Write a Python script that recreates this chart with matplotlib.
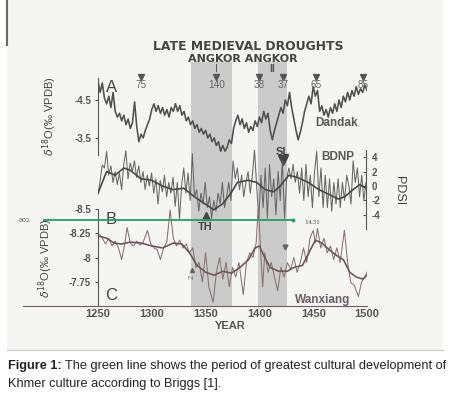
import numpy as np
import matplotlib
matplotlib.use("Agg")
import matplotlib.pyplot as plt
from matplotlib.patches import Rectangle

plt.rcParams['font.family'] = ['Liberation Sans', 'DejaVu Sans']

# ---- data ----
# Dandak cave d18O, every 2 years from 1250
dandak = [-5.0, -4.7, -4.95, -4.55, -4.4, -4.6, -4.3, -4.7, -4.2, -4.05,
          -4.15, -3.95, -4.1, -3.85, -4.0, -3.75, -3.9, -4.45, -3.8, -3.4,
          -3.6, -3.5, -3.7, -3.85, -4.0, -4.25, -4.4, -4.2, -4.35, -4.15,
          -4.3, -4.1, -4.25, -4.05, -4.3, -4.2, -4.4, -4.2, -4.35, -4.1,
          -4.2, -3.95, -4.05, -3.85, -3.95, -3.75, -3.85, -3.65, -3.75, -3.6,
          -3.7, -3.5, -3.6, -3.4, -3.5, -3.3, -3.4, -3.15, -3.3, -3.15,
          -3.25, -3.45, -3.35, -3.75, -3.95, -4.1, -3.85, -4.0, -3.75, -3.9,
          -3.65, -3.8, -3.7, -3.95, -3.8, -4.05, -3.9, -4.2, -4.0, -4.15,
          -3.7, -3.45, -3.7, -3.9, -4.1, -4.3, -4.15, -4.5, -4.35, -4.7,
          -4.3, -4.0, -3.7, -3.45, -3.65, -3.9, -4.2, -4.4, -4.6, -4.4,
          -4.85, -4.6, -4.75, -4.2, -4.35, -4.1, -4.25, -4.05, -4.3, -4.15,
          -4.4, -4.2, -4.5, -4.3, -4.6, -4.45, -4.7, -4.5, -4.75, -4.6,
          -4.85, -4.65, -4.8, -4.7, -4.9, -4.75]
dandak_years = np.arange(1250, 1250 + 2 * len(dandak), 2)

# BDNP PDSI, every 2 years from 1250
bdnp = [-1.2, 0.8, 2.9, 2.5, 4.8, 1.5, 2.8, 0.5, 2.0, 0.2,
        1.8, -0.5, 3.0, 4.9, 1.0, 3.2, 2.0, 3.5, 1.2, 2.8,
        0.5, 2.0, -0.5, 1.5, 0.0, 1.8, -1.0, 1.0, -2.5, 0.8,
        -0.8, 1.5, -1.5, 0.5, -1.0, 1.2, -2.8, 0.5, -4.6, 0.0,
        2.5, -1.0, 1.8, -2.0, 4.5, -1.5, -0.5, -3.5, -1.0, -2.5,
        0.5, -3.0, -1.5, -4.5, -2.0, -3.5, -1.0, -2.5, 0.5, -3.0,
        -1.5, 0.5, -2.0, 3.5, 1.0, 2.5, -0.5, 1.5, -1.5, 0.5,
        2.0, -1.0, 1.5, 5.0, 0.0, -4.5, 1.5, -3.0, 2.5, -4.5,
        3.0, -1.5, 1.0, -4.0, 2.0, -2.0, 3.5, -4.5, 1.0, 2.5,
        1.0, 3.0, 0.5, 2.0, -1.0, 2.5, -2.0, 3.0, -1.5, 1.5,
        -3.0, 2.0, 4.8, -1.5, 2.5, -3.0, 1.5, -3.0, 1.0, -3.5,
        0.5, -2.5, 1.0, -3.0, 0.5, -2.0, 1.5, 0.0, -2.5, 3.5,
        0.5, 2.5, -1.5, 1.5, -2.0, 0.5]
bdnp_years = np.arange(1250, 1250 + 2 * len(bdnp), 2)
bdnp_smooth_years = [1250, 1258, 1266, 1274, 1280, 1290, 1300, 1310, 1320, 1330,
                     1340, 1350, 1358, 1366, 1374, 1380, 1390, 1398, 1406, 1414,
                     1420, 1428, 1436, 1446, 1456, 1466, 1474, 1480, 1488, 1494, 1500]
bdnp_smooth = [-1.0, 2.0, 1.5, 2.5, 2.2, 1.0, 0.8, 0.0, -0.5, -0.3,
               -1.5, -2.5, -3.3, -2.5, -1.0, 0.5, 0.8, 0.5, -0.5, -0.8,
               0.0, 1.5, 1.2, 0.5, -0.5, -1.2, -1.8, -1.5, -0.5, 0.2, -0.3]

# Wanxiang cave d18O
wan_years = [1251, 1254, 1257, 1260, 1263, 1266, 1269, 1272, 1275, 1277,
             1280, 1283, 1286, 1289, 1292, 1296, 1299, 1302, 1305, 1308,
             1311, 1314, 1317, 1320, 1323, 1326, 1329, 1332, 1335, 1338,
             1341, 1344, 1347, 1350, 1353, 1357, 1360, 1363, 1366, 1369,
             1372, 1375, 1378, 1381, 1385, 1388, 1391, 1394, 1397, 1399,
             1401, 1403, 1405, 1408, 1411, 1414, 1417, 1420, 1423, 1426,
             1429, 1432, 1435, 1438, 1441, 1444, 1447, 1450, 1452, 1454,
             1457, 1460, 1463, 1466, 1469, 1472, 1475, 1479, 1482, 1485,
             1488, 1492, 1495, 1498, 1500]
wan = [-8.24, -8.2, -8.14, -8.2, -8.12, -8.17, -8.1, -7.98, -8.15, -8.31,
       -8.15, -8.12, -8.17, -8.13, -8.16, -8.28, -8.14, -8.1, -8.08, -7.98,
       -8.1, -8.16, -8.49, -8.2, -8.12, -8.18, -8.1, -8.14, -8.05, -8.1,
       -7.9, -7.95, -7.75, -8.05, -7.7, -7.54, -7.85, -8.0, -7.78, -7.95,
       -7.7, -7.9, -7.8, -7.95, -7.62, -7.95, -8.05, -8.0, -8.15, -8.55,
       -8.1, -7.7, -8.05, -7.85, -7.95, -7.8, -7.66, -7.9, -7.8, -7.95,
       -7.88, -8.0, -7.85, -7.95, -8.1, -7.95, -8.2, -8.28, -8.15, -8.3,
       -8.1, -8.2, -8.05, -8.12, -7.98, -8.1, -7.95, -8.28, -7.95, -7.74,
       -7.72, -7.6, -7.75, -7.8, -7.85]
wan_smooth_years = [1251, 1258, 1265, 1272, 1280, 1290, 1300, 1310, 1320, 1328,
                    1335, 1342, 1350, 1358, 1366, 1374, 1382, 1390, 1396, 1400,
                    1405, 1410, 1418, 1426, 1432, 1440, 1446, 1452, 1458, 1465,
                    1472, 1478, 1484, 1490, 1496, 1500]
wan_smooth = [-8.22, -8.2, -8.15, -8.14, -8.16, -8.15, -8.12, -8.1, -8.15, -8.14,
              -8.05, -7.92, -7.85, -7.82, -7.86, -7.84, -7.9, -7.98, -8.1, -8.12,
              -8.0, -7.9, -7.86, -7.86, -7.9, -7.92, -8.05, -8.18, -8.15, -8.08,
              -8.02, -7.98, -7.85, -7.8, -7.78, -7.82]

angkor_droughts = [(1336, 1374.5), (1399, 1425.5)]
khmer_period = (802, 1431)
top_markers = [1290, 1360, 1400, 1422, 1453, 1496]
top_marker_labels = ['75', '140', '38', '37', '65', '85']

# ---- layout helpers (pixel -> figure fraction) ----
W, H = 453, 393
fig = plt.figure(figsize=(W / 100, H / 100), dpi=100)


def rect(x0, y0, x1, y1):
    return [x0 / W, 1 - y1 / H, (x1 - x0) / W, (y1 - y0) / H]


X0, X1 = 98, 367
ypp = (1500 - 1250) / (X1 - X0)  # years per pixel


def xl(px_left, px_right):
    return (1250 - (X0 - px_left) * ypp, 1500 + (px_right - X1) * ypp)


gray = '#555555'
tfont = dict(fontsize=7, fontweight='bold', color=gray)

# background / page
bg = fig.add_axes([0, 0, 1, 1])
bg.set_xlim(0, W)
bg.set_ylim(H, 0)
bg.axis('off')
bg.add_patch(Rectangle((7, 0), 436, 350, facecolor='#f5f5f3', edgecolor='none'))
bg.plot([7, 443], [350, 350], color='#d0d0d0', lw=1)
bg.plot([7, 7], [0, 45], color='#6a6a6a', lw=1.5)
bg.set_zorder(0)

# overlay in years x pixel for bands and annotations
ov = fig.add_axes(rect(X0, 0, X1, H))
ov.set_xlim(1250, 1500)
ov.set_ylim(H, 0)
ov.axis('off')
ov.set_zorder(1)
for a, b in angkor_droughts:
    ov.fill_between([a, b], 62, 306, color='#cbcbcb', lw=0)

# panel A: Dandak
axA = fig.add_axes(rect(X0, 78, X1, 155))
axA.plot(dandak_years, dandak, color='#505050', lw=1.15)
axA.set_xlim(1250, 1500)
axA.set_ylim(-3.05, -5.08)
# panel B: BDNP
axB = fig.add_axes(rect(X0, 150, 366, 229))
axB.plot(bdnp_years, bdnp, color='#666666', lw=0.75)
axB.plot(bdnp_smooth_years, bdnp_smooth, color='#484848', lw=1.2)
axB.set_xlim(1250, 1500)
axB.set_ylim(-5.97, 5.0)
# panel C: Wanxiang
axC = fig.add_axes(rect(23, 209, X1, 306))
axC.plot(wan_years, wan, color='#887272', lw=0.75)
axC.plot(wan_smooth_years, wan_smooth, color='#6e5858', lw=1.2)
axC.set_xlim(*xl(23, X1))
axC.set_ylim(-7.503, -8.5)
# green line (Khmer period)
axG = fig.add_axes(rect(43, 215, X1, 225))
axG.plot(khmer_period, [0, 0], color='#2e9b5e', lw=1.3, marker='o', ms=1.8)
axG.set_xlim(*xl(43, X1))
axG.set_ylim(-1, 1)
axG.axis('off')

for ax in (axA, axB, axC, axG):
    ax.patch.set_alpha(0)
    ax.set_zorder(2)
    for s in ax.spines.values():
        s.set_visible(False)
    ax.set_xticks([])

axC.spines['left'].set_position(('data', 1250))
for ax, ticks, labels in ((axA, [-4.5, -3.5], ['-4.5', '-3.5']),
                          (axC, [-8.5, -8.25, -8, -7.75], ['-8.5', '-8.25', '-8', '-7.75'])):
    ax.spines['left'].set_visible(True)
    ax.spines['left'].set_color(gray)
    ax.set_yticks(ticks)
    ax.set_yticklabels(labels, **tfont)
    ax.tick_params(axis='y', length=2, width=0.8, color=gray, pad=3)
axC.spines['bottom'].set_visible(True)
axC.spines['bottom'].set_color('#6e5e5e')
axC.set_xticks([1250, 1300, 1350, 1400, 1450, 1500])
axC.set_xticklabels(['1250', '1300', '1350', '1400', '1450', '1500'],
                    fontsize=8, fontweight='bold', color=gray)
axC.tick_params(axis='x', length=0, pad=2)

axB.spines['right'].set_visible(True)
axB.spines['right'].set_color(gray)
axB.yaxis.tick_right()
axB.set_yticks([4, 2, 0, -2, -4])
axB.set_yticklabels(['4', '2', '0', '-2', '-4'], **tfont)
axB.tick_params(axis='y', length=2, width=0.8, color=gray, direction='in', pad=4)

# annotations (x in years, y in pixels)
for yr, lab in zip(top_markers, top_marker_labels):
    ov.plot(yr, 77, marker='v', ms=4.5, color='#555555', clip_on=False)
    ov.text(yr, 85.5, lab, ha='center', va='center', fontsize=7.2, color='#666666')
ov.text(1360, 69, 'I', ha='center', va='center', fontsize=7.5, color='#555555')
ov.text(1412, 69, 'II', ha='center', va='center', fontsize=7.5, fontweight='bold', color='#555555')
ov.text(1263, 87, 'A', ha='center', va='center', fontsize=12, color='#444444')
ov.text(1262, 220, 'B', ha='center', va='center', fontsize=12, color='#444444')
ov.text(1262, 296, 'C', ha='center', va='center', fontsize=12, color='#444444')
ov.text(1472, 123, 'Dandak', ha='center', va='center', fontsize=8.5, fontweight='bold', color='#5a5a5a')
ov.text(1473, 157, 'BDNP', ha='center', va='center', fontsize=8.5, fontweight='bold', color='#5a5a5a')
ov.text(1459, 300, 'Wanxiang', ha='center', va='center', fontsize=8.5, fontweight='bold', color='#6e5e5e')
ov.text(1422, 152, 'SL', ha='center', va='center', fontsize=8, fontweight='bold', color='#444444')
ov.plot(1422, 160, marker='v', ms=7, color='#444444')
ov.text(1350, 227, 'TH', ha='center', va='center', fontsize=8, fontweight='bold', color='#444444')
ov.plot(1350, 216, marker='^', ms=6, color='#444444')
ov.plot(1424, 247, marker='v', ms=3.5, color='#666666')
ov.plot(1337, 270, marker='^', ms=3, color='#666666')
ov.text(1337, 277, '2', ha='center', va='center', fontsize=5.5, rotation=90, color='#666666')
ov.text(1373, 326, 'YEAR', ha='center', va='center', fontsize=8, fontweight='bold', color='#555555')

# page text
bg.text(248, 47, 'LATE MEDIEVAL DROUGHTS', ha='center', va='center', fontsize=8.9,
        fontweight='bold', family='DejaVu Sans', color='#444444')
bg.text(243, 59, 'ANGKOR ANGKOR', ha='center', va='center', fontsize=8,
        fontweight='bold', family='DejaVu Sans', color='#444444')
bg.text(50, 116, r'$\delta^{18}$O(‰ VPDB)', ha='center', va='center', rotation=90,
        fontsize=8, color='#444444')
bg.text(46, 258, r'$\delta^{18}$O(‰ VPDB)', ha='center', va='center', rotation=90,
        fontsize=8, color='#444444')
bg.text(399, 191, 'PDSI', ha='center', va='center', rotation=-90, fontsize=9, color='#444444')
bg.text(25, 220, '802', ha='center', va='center', fontsize=4.5, family='DejaVu Serif', color='#555555')
bg.text(312, 222, '1431', ha='center', va='center', fontsize=4.5, family='DejaVu Serif', color='#555555')

cap_fs = 9.2
cap1 = bg.text(8, 366, 'Figure 1:', ha='left', va='center', fontsize=cap_fs,
               fontweight='bold', color='#222222')
fig.canvas.draw()
bb = cap1.get_window_extent().transformed(bg.transData.inverted())
bg.text(bb.x1 + 3, 366, 'The green line shows the period of greatest cultural development of',
        ha='left', va='center', fontsize=cap_fs, color='#222222')
bg.text(8, 384, 'Khmer culture according to Briggs [1].', ha='left', va='center',
        fontsize=cap_fs, color='#222222')

fig.savefig('out.png', dpi=100)
